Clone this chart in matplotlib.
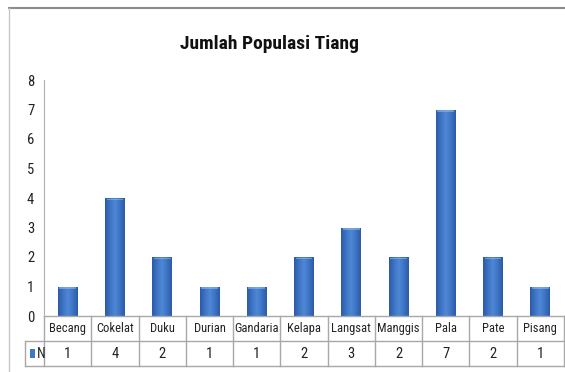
import matplotlib
matplotlib.use("Agg")
import matplotlib.pyplot as plt
import numpy as np
from matplotlib.colors import LinearSegmentedColormap
from matplotlib.patches import Rectangle
from matplotlib import font_manager

categories = ["Becang", "Cokelat", "Duku", "Durian", "Gandaria", "Kelapa",
              "Langsat", "Manggis", "Pala", "Pate", "Pisang"]
values = [1, 4, 2, 1, 1, 2, 3, 2, 7, 2, 1]
series_name = "N"
title = "Jumlah Populasi Tiang"

# pick a narrow face if there is one
names = {f.name for f in font_manager.fontManager.ttflist}
narrow = "DejaVu Sans"
for cand in ["Liberation Sans Narrow", "Roboto Condensed", "DejaVu Sans Condensed"]:
    if cand in names:
        narrow = cand
        break
plt.rcParams["font.family"] = [narrow, "DejaVu Sans"]

W, H = 565, 372
fig = plt.figure(figsize=(W / 100, H / 100), dpi=100)
fig.patch.set_facecolor("white")

# outer frame (top and left edges visible)
frame = "#8c8c8c"
fig.add_artist(plt.Line2D([9 / W, 1], [1 - 8 / H, 1 - 8 / H], color=frame, lw=1.5))
fig.add_artist(plt.Line2D([9 / W, 9 / W], [0, 1 - 8 / H], color="#c8c8c8", lw=1))

ax = fig.add_axes([44 / W, 56 / H, 520 / W, 236 / H])
n = len(categories)
x = np.arange(n)
ax.set_yticks(range(0, 9))
ax.set_xticks([])
ax.tick_params(axis="y", length=0, pad=7, labelsize=10.5, colors="#222222")
for s in ["top", "right", "bottom"]:
    ax.spines[s].set_visible(False)
ax.spines["left"].set_color("#b0b0b0")

# bars with a horizontal gradient, like the spreadsheet style
cmap = LinearSegmentedColormap.from_list(
    "bar", ["#2b5ba5", "#3d74c4", "#4f88d6", "#3d74c4", "#2b5ba5"])
grad = np.linspace(0, 1, 64).reshape(1, -1)
bw = 0.42
bars = ax.bar(x, values, width=bw, color="#3f78c8", edgecolor="none")
for b in bars:
    x0, y0 = b.get_x(), b.get_y()
    w, h = b.get_width(), b.get_height()
    im = ax.imshow(grad, cmap=cmap, aspect="auto",
                   extent=[x0, x0 + w, y0, y0 + h], zorder=2)
    im.set_clip_path(b)
    ax.add_patch(Rectangle((x0 + w * 0.08, y0 + h - 0.07), w * 0.84, 0.05,
                           color="#9cc0ee", alpha=0.55, zorder=3, lw=0))
    b.set_alpha(0)
ax.set_xlim(-0.5, n - 0.5)
ax.set_ylim(0, 8)

# data table under the plot
row = 25 / 236
grid = "#a8a8a8"
key_x = -0.5 - (44 - 25) / (520 / n)
kw = dict(transform=ax.get_xaxis_transform(), clip_on=False, color=grid, lw=1)
ax.plot([-0.5, n - 0.5], [0, 0], **kw)
ax.plot([key_x, n - 0.5], [-row, -row], **kw)
ax.plot([key_x, n - 0.5], [-2 * row, -2 * row], **kw)
for i in range(n + 1):
    ax.plot([i - 0.5, i - 0.5], [0, -2 * row], **kw)
ax.plot([key_x, key_x], [-row, -2 * row], **kw)

tt = ax.get_xaxis_transform()
for i, (c, v) in enumerate(zip(categories, values)):
    ax.text(i, -row / 2, c, transform=tt, ha="center", va="center",
            fontsize=9, color="#222222")
    ax.text(i, -1.5 * row, str(v), transform=tt, ha="center", va="center",
            fontsize=10.5, color="#222222")
ax.add_patch(Rectangle((key_x + 0.1, -1.5 * row - 0.02), 0.11, 0.04,
                       transform=tt, clip_on=False, color="#3f78c8", lw=0))
ax.text(key_x + 0.25, -1.5 * row, series_name, transform=tt, ha="left",
        va="center", fontsize=10, color="#222222")

fig.text(270 / W, 1 - 44 / H, title, ha="center", va="center",
         fontsize=14, fontweight="bold", color="#111111")

fig.savefig("out.png", dpi=100)
